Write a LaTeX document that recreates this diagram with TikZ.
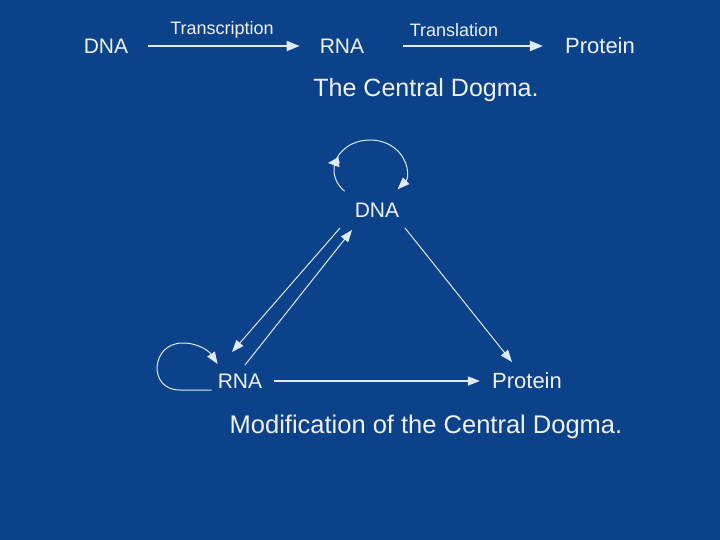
\documentclass[tikz,border=0pt]{standalone}
\usepackage{fontspec}
\setmainfont{Liberation Sans}
\usetikzlibrary{arrows.meta,calc}
\definecolor{bg}{RGB}{12,66,138}
\definecolor{ln}{RGB}{222,234,248}
\definecolor{tx}{RGB}{240,242,246}
\begin{document}
\begin{tikzpicture}[x=1pt,y=-1pt,
  lbl/.style={inner sep=0pt,text=tx,font=\fontsize{21}{24}\selectfont},
  labsmall/.style={inner sep=0pt,text=tx,font=\fontsize{18}{20}\selectfont},
  captxt/.style={inner sep=0pt,text=tx,font=\fontsize{25.5}{28}\selectfont},
  thickarr/.style={draw=ln,line width=2pt,-{Triangle[length=13pt,width=10pt]}},
  thinarr/.style={draw=ln,line width=1pt,-{Triangle[length=12pt,width=9pt]}},
  tiponly/.style={draw=ln,line width=1pt,-{Triangle[length=11pt,width=10pt]}}]
\fill[bg] (0,0) rectangle (720,540);
\useasboundingbox (0,0) rectangle (720,540);
% top: central dogma
\node[lbl] (dna1) at (106,46) {DNA};
\node[lbl] (rna1) at (342,46) {RNA};
\node[lbl,font=\fontsize{22}{24}\selectfont] (prot1) at (600,46) {Protein};
\node[labsmall] (tscr) at (222,30) {Transcription};
\node[labsmall] (tsl) at (454,30) {Translation};
\node[captxt,font=\fontsize{25}{28}\selectfont] (cd) at (426,90) {The Central Dogma.};
\draw[thickarr,shorten <=20pt,shorten >=20pt] (dna1) -- (rna1);
\draw[thickarr,shorten <=39pt,shorten >=22pt] (rna1) -- (prot1);
% bottom: modified dogma
\node[lbl] (dna2) at (377,210) {DNA};
\node[lbl] (rna2) at (240,381) {RNA};
\node[lbl,font=\fontsize{22}{24}\selectfont] (prot2) at (527,381) {Protein};
\node[captxt] (mcd) at (426,427) {Modification of the Central Dogma.};
\coordinate (d1) at ($(dna2.center)+(-37,18)$);
\coordinate (r1) at ($(rna2.center)+(-8,-29)$);
\coordinate (r2) at ($(rna2.center)+(5,-16)$);
\coordinate (d2) at ($(dna2.center)+(-25,20)$);
\coordinate (d3) at ($(dna2.center)+(28,18)$);
\coordinate (p1) at ($(prot2.center)+(-15,-19)$);
\draw[thinarr] (d1) -- (r1);
\draw[thinarr] (r2) -- (d2);
\draw[thinarr] (d3) -- (p1);
\draw[thinarr,line width=1.5pt,shorten <=12pt,shorten >=12pt] (rna2) -- (prot2);
% DNA self loop
\coordinate (lc) at ($(dna2.center)+(-7,-40)$);
\draw[thinarr] ($(lc)+(135:36 and 30)$) arc[start angle=135,end angle=400,x radius=36,y radius=30];
\coordinate (lt) at ($(lc)+(-42,-7)$);
\draw[tiponly] ($(lt)+(12,-1)$) -- (lt);
% RNA self loop
\coordinate (rs) at ($(rna2.west)+(-6,9)$);
\coordinate (re) at ($(rna2.west)+(0,-17)$);
\draw[thinarr] (rs) -- ++(-32,0) .. controls +(-32,0) and +(-32,0) .. ++(3,-47) .. controls +(17,0) and +(-8,-12) .. (re);
\end{tikzpicture}
\end{document}
